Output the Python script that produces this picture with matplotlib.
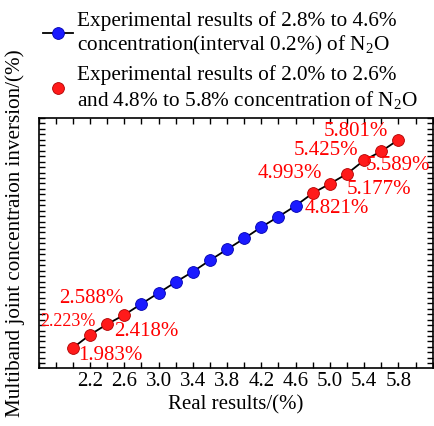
import numpy as np
import matplotlib
matplotlib.use('Agg')
import matplotlib.pyplot as plt
from matplotlib.ticker import MultipleLocator, FixedLocator
from matplotlib.lines import Line2D

plt.rcParams.update({
    'font.family': 'Liberation Serif',
    'mathtext.fontset': 'custom',
    'mathtext.rm': 'Liberation Serif',
    'mathtext.it': 'Liberation Serif:italic',
    'xtick.labelsize': 15,
    'ytick.labelsize': 15,
    'axes.labelsize': 15,
})

# blue: 2.8% .. 4.6% (interval 0.2%)
x_blue = [2.8, 3.0, 3.2, 3.4, 3.6, 3.8, 4.0, 4.2, 4.4, 4.6]
y_blue = [2.79, 2.99, 3.19, 3.38, 3.59, 3.79, 3.99, 4.20, 4.39, 4.59]

# red: 2.0% .. 2.6% and 4.8% .. 5.8%
x_red = [2.0, 2.2, 2.4, 2.6, 4.8, 5.0, 5.2, 5.4, 5.6, 5.8]
y_red = [1.983, 2.223, 2.418, 2.588, 4.821, 4.993, 5.177, 5.425, 5.589, 5.801]
red_labels = ['1.983%', '2.223%', '2.418%', '2.588%', '4.821%',
              '4.993%', '5.177%', '5.425%', '5.589%', '5.801%']
# label offsets in pixels from each red point
label_off = [(37, -8), (-22, 13), (39, -7), (-33, 16), (24, -15),
             (-40, 10), (32, -16), (-38, 10), (17, -14), (-43, 8)]
label_size = [15, 13, 15, 15, 15, 15, 15, 15, 15, 15]

x_ticks = [2.2, 2.6, 3.0, 3.4, 3.8, 4.2, 4.6, 5.0, 5.4, 5.8]

x_all = np.array(x_blue + x_red)
y_all = np.array(y_blue + y_red)
order = np.argsort(x_all)

fig = plt.figure(figsize=(4.34, 4.26), dpi=100)
ax = fig.add_axes([0.089, 0.137, 0.908, 0.586])

ax.plot(x_all[order], y_all[order], color='black', lw=1.3, zorder=2)
ax.plot(x_blue, y_blue, ls='none', marker='o', ms=8.5, mfc='#1a1aff',
        mec='#0000b0', mew=0.6, zorder=3)
ax.plot(x_red, y_red, ls='none', marker='o', ms=8.5, mfc='#ff1a1a',
        mec='#b00000', mew=0.6, zorder=3)

for x, y, s, off, fs in zip(x_red, y_red, red_labels, label_off, label_size):
    ax.annotate(s, (x, y), xytext=off, textcoords='offset pixels',
                ha='center', va='center', color='red', fontsize=fs,
                annotation_clip=False, zorder=4)

ax.set_xlim(1.6, 6.2)
ax.set_ylim(1.62, 6.2)
ax.xaxis.set_major_locator(FixedLocator(x_ticks))
ax.xaxis.set_minor_locator(MultipleLocator(0.2))
ax.yaxis.set_major_locator(MultipleLocator(0.1))
ax.tick_params(which='both', direction='in', top=True, right=True,
               length=4, width=1)
ax.tick_params(axis='y', labelleft=False)
for sp in ax.spines.values():
    sp.set_linewidth(1.2)

ax.set_xlabel('Real results/(%)', labelpad=3)
ax.set_ylabel('Multiband joint concentraion inversion/(%)', fontsize=15.2)
ax.yaxis.set_label_coords(-0.035, 0.54)

h1 = Line2D([], [], color='black', lw=1.3, marker='o', ms=8.5,
            mfc='#1a1aff', mec='#0000b0', mew=0.6)
h2 = Line2D([], [], ls='none', marker='o', ms=8.5,
            mfc='#ff1a1a', mec='#b00000', mew=0.6)
fig.legend([h1, h2],
           ['Experimental results of 2.8% to 4.6%\nconcentration(interval 0.2%) of N$_2$O',
            'Experimental results of 2.0% to 2.6%\nand 4.8% to 5.8% concentration of N$_2$O'],
           loc='upper left', bbox_to_anchor=(0.075, 1.0), frameon=False,
           fontsize=15.3, handlelength=1.4, handletextpad=0.2,
           labelspacing=0.4, borderaxespad=0.1)

fig.savefig('out.png', dpi=100)
